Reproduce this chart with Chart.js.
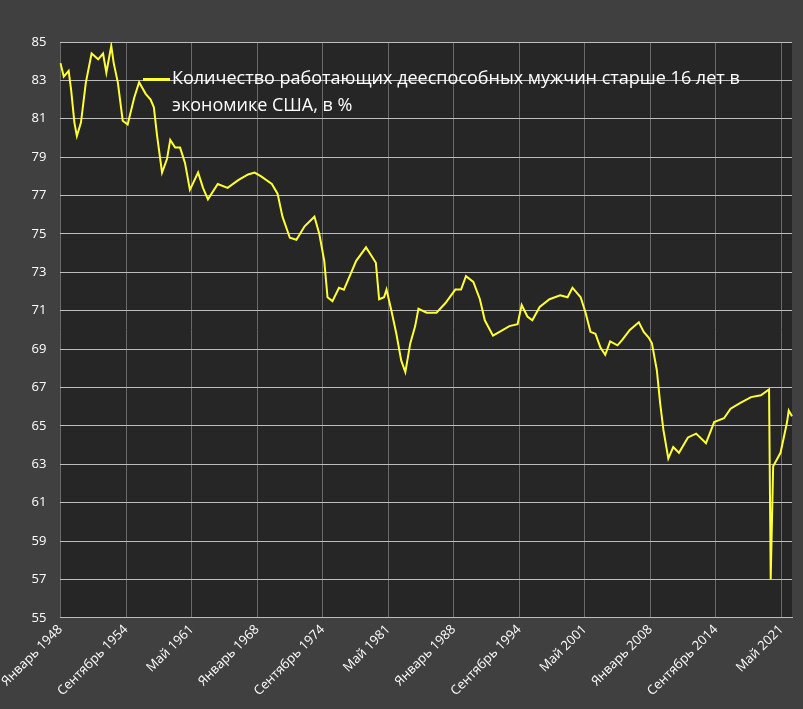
<!DOCTYPE html>
<html>
<head>
<meta charset="utf-8">
<script src="https://cdn.jsdelivr.net/npm/chart.js@4"></script>
<style>
  html, body { margin: 0; padding: 0; background: #404040; }
  #wrap { position: relative; width: 803px; height: 709px; }
  #legend {
    position: absolute; left: 143px; top: 64px; width: 640px;
    color: #fff; font-family: 'Open Sans', sans-serif; font-size: 18px; line-height: 27px;
    pointer-events: none; white-space: nowrap;
  }
  #legend .sw { display: inline-block; vertical-align: middle; width: 27px; height: 3px; background: #ffff33; margin-right: 2px; }
  #legend .l2 { padding-left: 29px; }
</style>
</head>
<body>
<div id="wrap">
  <canvas id="c" width="803" height="709"></canvas>
  <div id="legend"><span class="sw"></span>Количество работающих дееспособных мужчин старше 16 лет в<br><span class="l2">экономике США, в %</span></div>
</div>
<script>
// Monthly series, Jan 1948 .. Jun 2022; values at selected months.
const MONTH_NAMES = ['Январь', 'Февраль', 'Март', 'Апрель', 'Май', 'Июнь', 'Июль', 'Август', 'Сентябрь', 'Октябрь', 'Ноябрь', 'Декабрь'];
const START_YEAR = 1948;
const MONTH_COUNT = 894;

// month index since Jan 1948
const POINT_MONTHS = [
  0, 4, 10, 13, 17, 20, 25, 31, 38, 46, 52, 56, 62, 65, 70, 76, 82, 90, 96, 104,
  110, 114, 118, 124, 130, 134, 140, 146, 152, 158, 168, 174, 180, 192, 204, 217, 229, 237, 245, 258,
  265, 271, 280, 288, 298, 310, 316, 322, 326, 332, 340, 346, 355, 361, 373, 379, 385, 389, 395, 398,
  404, 410, 416, 421, 427, 433, 437, 447, 459, 470, 482, 489, 495, 504, 512, 518, 528, 536, 548, 558,
  563, 570, 576, 585, 597, 610, 619, 625, 635, 641, 647, 653, 659, 665, 671, 680, 686, 695, 706, 712,
  718, 722, 728, 732, 736, 742, 748, 755, 766, 776, 788, 798, 810, 818, 830, 843, 855, 865, 867, 870,
  879, 887, 889, 893
];
const POINT_VALUES = [
  83.9, 83.2, 83.5, 82.5, 80.8, 80.1, 80.8, 82.9, 84.4, 84.1, 84.4, 83.4, 84.8, 83.9, 82.9, 80.9, 80.7, 82.1, 82.9, 82.3,
  82.0, 81.6, 80.1, 78.2, 78.9, 79.9, 79.5, 79.5, 78.7, 77.3, 78.2, 77.4, 76.8, 77.6, 77.4, 77.8, 78.1, 78.2, 78.0, 77.6,
  77.1, 75.9, 74.8, 74.7, 75.4, 75.9, 75.0, 73.6, 71.7, 71.5, 72.2, 72.1, 73.0, 73.6, 74.3, 73.9, 73.5, 71.6, 71.7, 72.1,
  71.0, 69.8, 68.4, 67.8, 69.3, 70.2, 71.1, 70.9, 70.9, 71.4, 72.1, 72.1, 72.8, 72.5, 71.6, 70.5, 69.7, 69.9, 70.2, 70.3,
  71.3, 70.7, 70.5, 71.2, 71.6, 71.8, 71.7, 72.2, 71.7, 70.9, 69.9, 69.8, 69.1, 68.7, 69.4, 69.2, 69.5, 70.0, 70.4, 69.9,
  69.6, 69.3, 67.9, 66.2, 64.8, 63.3, 63.9, 63.6, 64.4, 64.6, 64.1, 65.2, 65.4, 65.9, 66.2, 66.5, 66.6, 66.9, 57.0, 62.9,
  63.6, 65.2, 65.8, 65.5
];
const Y_MIN = 55;
const Y_MAX = 85;
const Y_STEP = 2;
const TICK_EVERY = 80;

const labels = Array.from({ length: MONTH_COUNT }, (_, i) =>
  `${MONTH_NAMES[i % 12]} ${START_YEAR + Math.floor(i / 12)}`);

const points = POINT_MONTHS.map((m, i) => ({ x: labels[m], y: POINT_VALUES[i] }));

const FONT = { family: "'Open Sans', sans-serif", size: 13 };

new Chart(document.getElementById('c'), {
  type: 'line',
  data: {
    labels,
    datasets: [{
      data: points,
      borderColor: '#ffff33',
      borderWidth: 2,
      pointRadius: 0,
      tension: 0
    }]
  },
  plugins: [{
    id: 'plotBg',
    beforeDraw(chart) {
      const { ctx, chartArea: a } = chart;
      ctx.save();
      ctx.fillStyle = '#262626';
      ctx.fillRect(a.left, a.top, a.right - a.left, a.bottom - a.top);
      ctx.restore();
    }
  }],
  options: {
    responsive: false,
    animation: false,
    layout: { padding: { top: 42, right: 11, left: 0, bottom: 6 } },
    plugins: { legend: { display: false }, tooltip: { enabled: false } },
    scales: {
      x: {
        grid: { color: '#6a6a6a', lineWidth: 1, drawTicks: false, offset: false },
        border: { color: '#bdbdbd' },
        ticks: {
          color: '#ffffff', font: FONT, autoSkip: false, maxRotation: 45, minRotation: 45,
          padding: 4,
          callback: (v, i) => (i % TICK_EVERY === 0 ? labels[i] : null)
        }
      },
      y: {
        min: Y_MIN, max: Y_MAX,
        afterFit: s => { s.width = 44; },
        grid: { color: '#bdbdbd', lineWidth: 1, drawTicks: false },
        border: { display: false },
        ticks: { color: '#ffffff', font: FONT, stepSize: Y_STEP, padding: 14 }
      }
    }
  }
});
</script>
</body>
</html>
